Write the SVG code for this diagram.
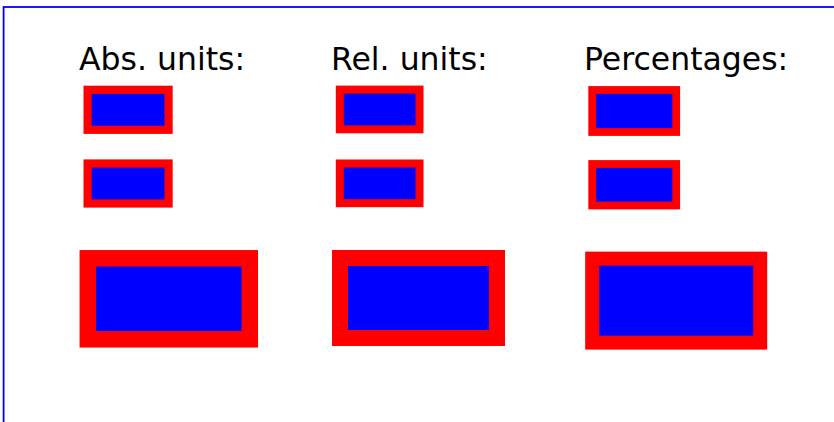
<svg xmlns="http://www.w3.org/2000/svg" width="834" height="422" viewBox="0 0 834 422">
<style>
.lbl{font-family:"DejaVu Sans",Verdana,sans-serif;font-size:31.5px;fill:#000}
.box{fill:#0000ff;stroke:#ff0000}
</style>
<rect x="0" y="0" width="834" height="422" fill="#fff"/>
<rect id="frame" x="3.6" y="7" width="900" height="500" fill="none" stroke="#0000ff" stroke-width="1.8"/>
<g id="labels">
<text class="lbl" x="79" y="69.5">Abs. units:</text>
<text class="lbl" x="331" y="69.5">Rel. units:</text>
<text class="lbl" x="584" y="69.5">Percentages:</text>
</g>
<g id="abs-small-1"><rect class="box" x="87.6" y="89.8" width="81" height="40" stroke-width="8.2"/></g>
<g id="abs-small-2"><rect class="box" x="87.6" y="163.5" width="81" height="40" stroke-width="8.2"/></g>
<g id="abs-large"><rect class="box" x="87.8" y="258.3" width="162" height="81" stroke-width="16.5"/></g>
<g id="rel-small-1"><rect class="box" x="339.8" y="89.6" width="79.7" height="39.7" stroke-width="8"/></g>
<g id="rel-small-2"><rect class="box" x="339.8" y="163.5" width="79.7" height="39.7" stroke-width="8"/></g>
<g id="rel-large"><rect class="box" x="340" y="258" width="157" height="80" stroke-width="16"/></g>
<g id="pct-small-1"><rect class="box" x="592.2" y="90" width="84" height="42" stroke-width="7.8"/></g>
<g id="pct-small-2"><rect class="box" x="592.2" y="164" width="84" height="41.5" stroke-width="7.8"/></g>
<g id="pct-large"><rect class="box" x="592.2" y="258.6" width="168" height="84" stroke-width="14"/></g>
</svg>
